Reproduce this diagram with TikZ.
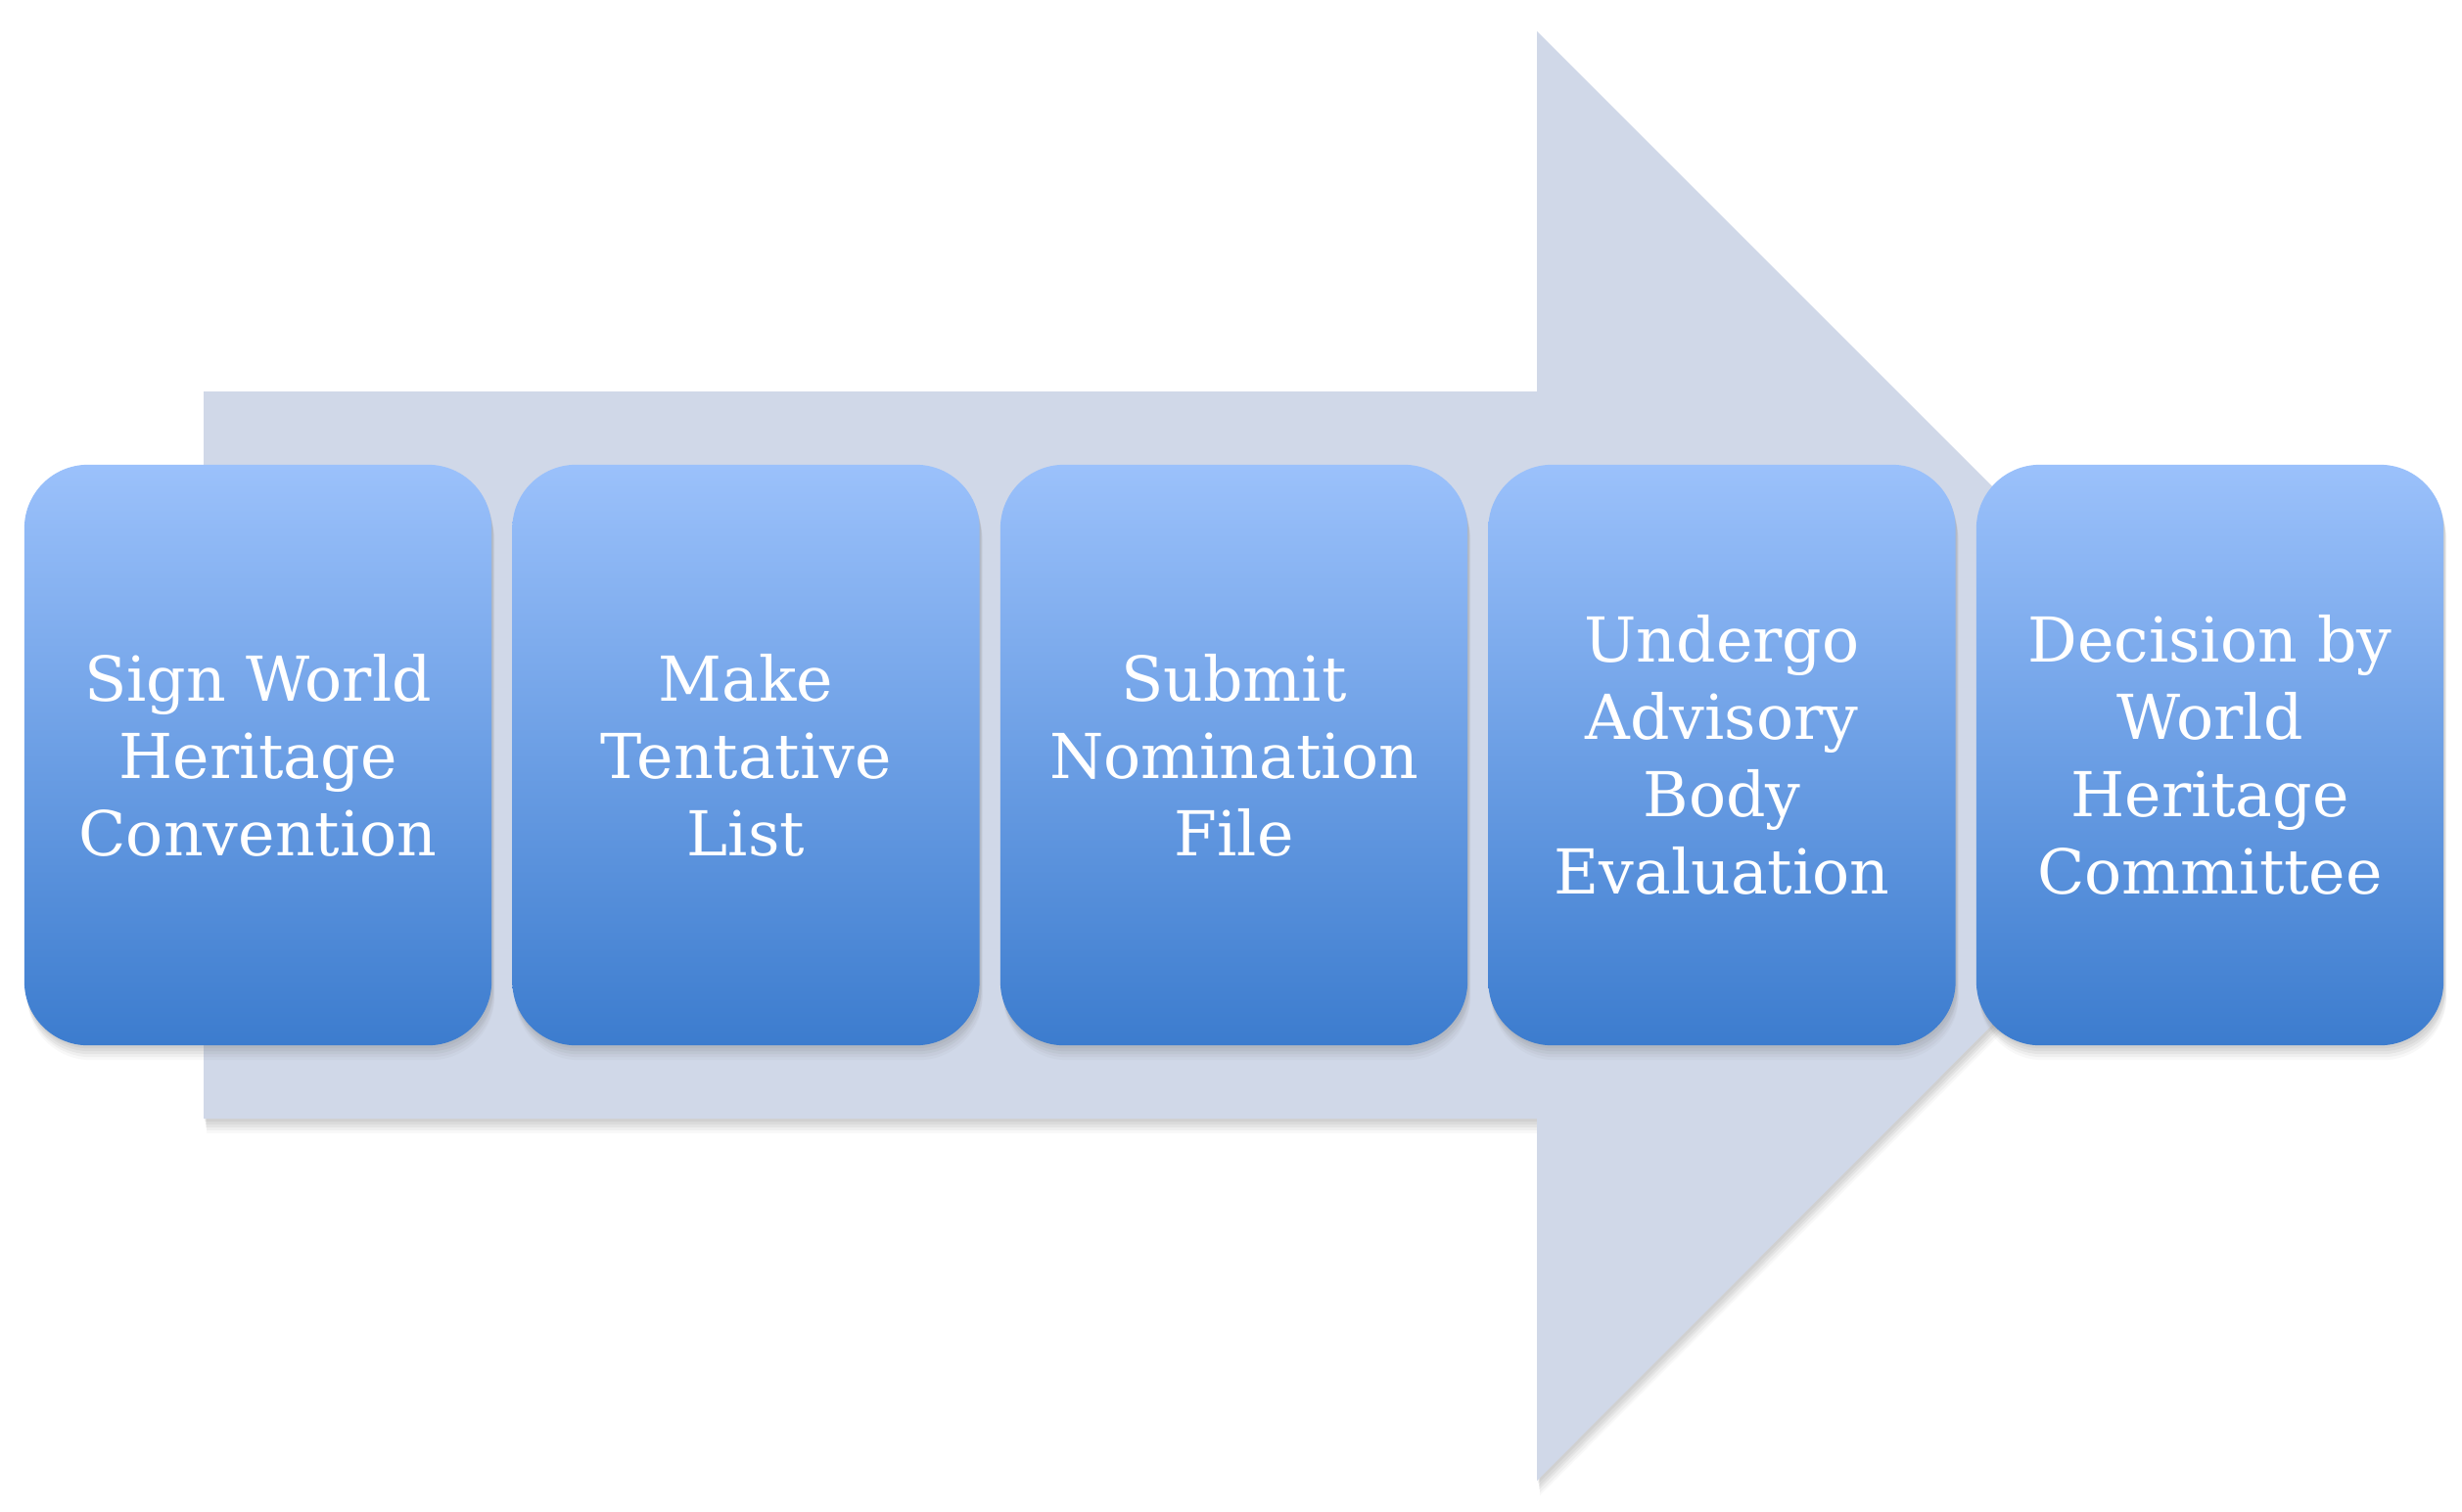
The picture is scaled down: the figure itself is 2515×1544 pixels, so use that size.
\documentclass[tikz,border=0pt]{standalone}
\usepackage{fontspec}
\setmainfont{DejaVu Serif}
\usetikzlibrary{shadows}
\definecolor{arrowfill}{RGB}{208,216,232}
\definecolor{boxtop}{RGB}{155,193,251}
\definecolor{boxbot}{RGB}{60,124,206}
\tikzset{
  softshadow/.style={
    drop shadow={opacity=0.10, shadow xshift=0.01cm, shadow yshift=-0.03cm},
    drop shadow={opacity=0.10, shadow xshift=0.02cm, shadow yshift=-0.06cm},
    drop shadow={opacity=0.09, shadow xshift=0.02cm, shadow yshift=-0.09cm},
    drop shadow={opacity=0.07, shadow xshift=0.03cm, shadow yshift=-0.12cm},
    drop shadow={opacity=0.05, shadow xshift=0.03cm, shadow yshift=-0.15cm}
  },
  stepbox/.style={
    draw=none, rounded corners=0.65cm,
    top color=boxtop, bottom color=boxbot,
    minimum width=4.77cm, minimum height=5.93cm, inner sep=0pt,
    text=white, align=center,
    font=\fontsize{18}{22.5}\selectfont,
    softshadow
  }
}
\begin{document}
\begin{tikzpicture}[x=0.01cm, y=-0.01cm]
\useasboundingbox (0,0) rectangle (2515,1544);
\fill[white] (0,0) rectangle (2515,1544);
% big background arrow
\path[fill=arrowfill, softshadow]
  (208,400) -- (1570,400) -- (1570,32) -- (2310,772) -- (1570,1513)
  -- (1570,1143) -- (208,1143) -- cycle;
% steps
\node[stepbox] (s1) at (263.5,771.5) {Sign World\\Heritage\\Convention};
\node[stepbox] (s2) at (762,771.5) {Make\\Tentative\\List};
\node[stepbox] (s3) at (1260.5,771.5) {Submit\\Nomination\\File};
\node[stepbox] (s4) at (1759,771.5) {Undergo\\Advisory\\Body\\Evaluation};
\node[stepbox] (s5) at (2257.5,771.5) {Decision by\\World\\Heritage\\Committee};
\end{tikzpicture}
\end{document}
